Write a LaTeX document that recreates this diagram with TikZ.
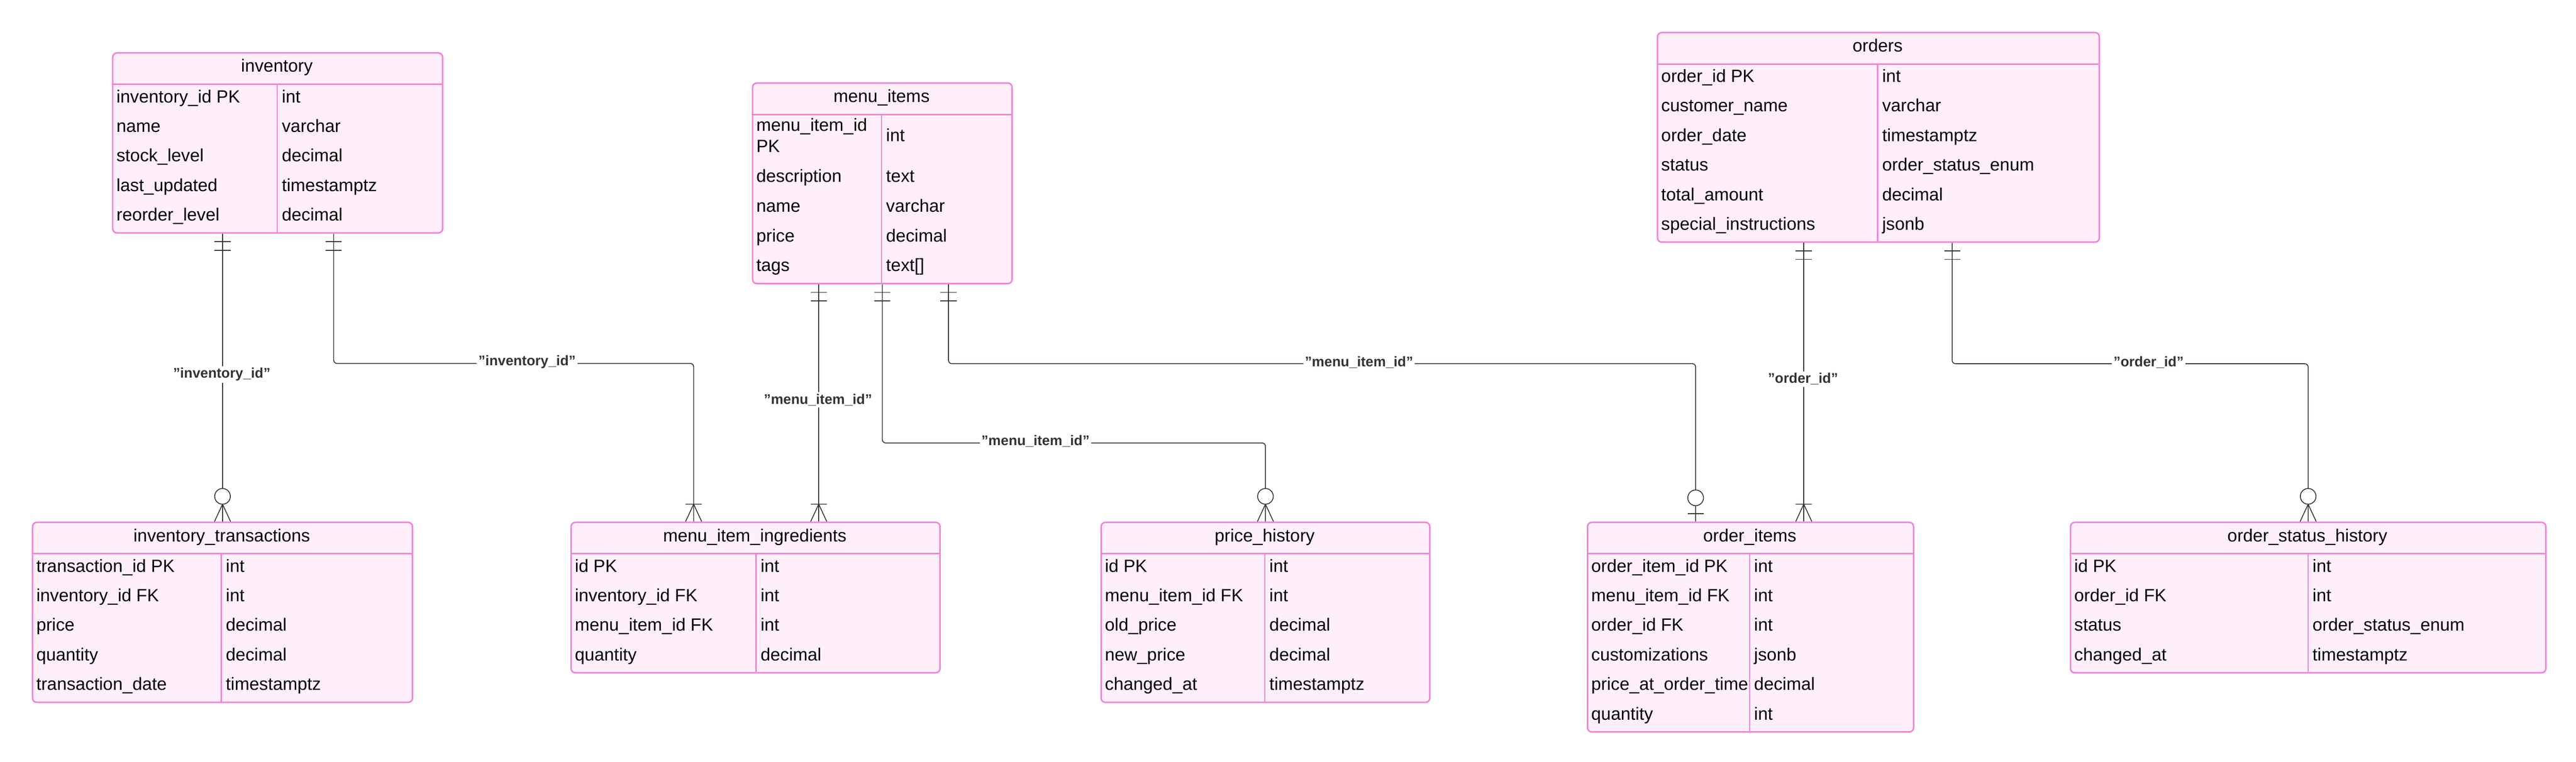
\documentclass[tikz,border=0pt]{standalone}
\usepackage{fontspec}
\setmainfont{Liberation Sans}
\definecolor{entpink}{RGB}{240,132,216}
\definecolor{entfill}{RGB}{255,239,250}
\definecolor{relgray}{RGB}{51,51,51}
\newcommand\fieldfont{\fontsize{11.84pt}{14.2pt}\selectfont}
\newcommand\relfont{\fontsize{9.4pt}{11pt}\selectfont\bfseries}
\begin{document}
\begin{tikzpicture}[ent/.style={draw=entpink,fill=entfill,line width=0.036cm,rounded corners=0.1cm,inner sep=0,anchor=north west},
	sep/.style={draw=entpink,line width=0.036cm},col/.style={draw=entpink,line width=0.028cm},
	enttitle/.style={font=\fieldfont,anchor=base,inner sep=0},fld/.style={font=\fieldfont,anchor=base west,inner sep=0},
	rel/.style={draw=relgray,line width=0.02cm,rounded corners=0.08cm},relline/.style={draw=relgray,line width=0.02cm},
	lbl/.style={font=\relfont,text=relgray,fill=white,inner sep=0.04cm},
	onlyone/.pic={\draw[relline] (-0.19,-0.19) -- (0.19,-0.19) (-0.19,-0.39) -- (0.19,-0.39);},
	zeromany/.pic={\draw[relline] (-0.19,0) -- (0,0.41) -- (0.19,0); \draw[relline,fill=white] (0,0.595) circle (0.185);},
	onemany/.pic={\draw[relline] (-0.19,0) -- (0,0.41) -- (0.19,0) (-0.19,0.41) -- (0.19,0.41);},
	zeroone/.pic={\draw[relline] (-0.19,0.19) -- (0.19,0.19); \draw[relline,fill=white] (0,0.56) circle (0.185);}]
	\useasboundingbox (0,0) rectangle (60.75,-17.96);
	% inventory
	\node[ent,minimum width=7.78cm,minimum height=4.245cm] (inv) at (2.64,-1.23) {};
	\draw[sep] (2.64,-1.99) -- (10.42,-1.99);
	\draw[col] (6.54,-1.99) -- (6.54,-5.475);
	\node[enttitle] (inv-h) at (6.53,-1.70) {inventory};
	\foreach \fn/\ty [count=\i] in {inventory\_id PK/int,name/varchar,stock\_level/decimal,last\_updated/timestamptz,reorder\_level/decimal}{
	    \node[fld] (inv-n\i) at (2.74,{-1.99-0.697*(\i-0.5)-0.08}) {\fn};
	    \node[fld] (inv-y\i) at (6.64,{-1.99-0.697*(\i-0.5)-0.08}) {\ty};}
	% menu_items
	\node[ent,minimum width=6.12cm,minimum height=4.73cm] (mi) at (17.73,-1.94) {};
	\draw[sep] (17.73,-2.70) -- (23.85,-2.70);
	\draw[col] (20.79,-2.70) -- (20.79,-6.67);
	\node[enttitle] (mi-h) at (20.79,-2.41) {menu\_items};
	\node[fld,align=left,anchor=north west] (mi-n1) at (17.83,-2.78) {menu\_item\_id\\PK};
	\node[fld] (mi-y1) at (20.89,-3.33) {int};
	\foreach \fn/\ty [count=\i from 2] in {description/text,name/varchar,price/decimal,tags/text[]}{
	    \node[fld] (mi-n\i) at (17.83,{-3.87-0.70*(\i-1.5)-0.08}) {\fn};
	    \node[fld] (mi-y\i) at (20.89,{-3.87-0.70*(\i-1.5)-0.08}) {\ty};}
	% orders
	\node[ent,minimum width=10.42cm,minimum height=4.942cm] (ord) at (39.07,-0.75) {};
	\draw[sep] (39.07,-1.51) -- (49.49,-1.51);
	\draw[col] (44.28,-1.51) -- (44.28,-5.692);
	\node[enttitle] (ord-h) at (44.28,-1.22) {orders};
	\foreach \fn/\ty [count=\i] in {order\_id PK/int,customer\_name/varchar,order\_date/timestamptz,status/order\_status\_enum,total\_amount/decimal,special\_instructions/jsonb}{
	    \node[fld] (ord-n\i) at (39.17,{-1.51-0.697*(\i-0.5)-0.08}) {\fn};
	    \node[fld] (ord-y\i) at (44.38,{-1.51-0.697*(\i-0.5)-0.08}) {\ty};}
	% inventory_transactions
	\node[ent,minimum width=8.96cm,minimum height=4.245cm] (invtx) at (0.75,-12.30) {};
	\draw[sep] (0.75,-13.06) -- (9.71,-13.06);
	\draw[col] (5.22,-13.06) -- (5.22,-16.545);
	\node[enttitle] (invtx-h) at (5.23,-12.77) {inventory\_transactions};
	\foreach \fn/\ty [count=\i] in {transaction\_id PK/int,inventory\_id FK/int,price/decimal,quantity/decimal,transaction\_date/timestamptz}{
	    \node[fld] (invtx-n\i) at (0.85,{-13.06-0.697*(\i-0.5)-0.08}) {\fn};
	    \node[fld] (invtx-y\i) at (5.32,{-13.06-0.697*(\i-0.5)-0.08}) {\ty};}
	% menu_item_ingredients
	\node[ent,minimum width=8.70cm,minimum height=3.548cm] (mii) at (13.45,-12.30) {};
	\draw[sep] (13.45,-13.06) -- (22.15,-13.06);
	\draw[col] (17.83,-13.06) -- (17.83,-15.848);
	\node[enttitle] (mii-h) at (17.80,-12.77) {menu\_item\_ingredients};
	\foreach \fn/\ty [count=\i] in {id PK/int,inventory\_id FK/int,menu\_item\_id FK/int,quantity/decimal}{
	    \node[fld] (mii-n\i) at (13.55,{-13.06-0.697*(\i-0.5)-0.08}) {\fn};
	    \node[fld] (mii-y\i) at (17.93,{-13.06-0.697*(\i-0.5)-0.08}) {\ty};}
	% price_history
	\node[ent,minimum width=7.75cm,minimum height=4.245cm] (ph) at (25.95,-12.30) {};
	\draw[sep] (25.95,-13.06) -- (33.70,-13.06);
	\draw[col] (29.83,-13.06) -- (29.83,-16.545);
	\node[enttitle] (ph-h) at (29.825,-12.77) {price\_history};
	\foreach \fn/\ty [count=\i] in {id PK/int,menu\_item\_id FK/int,old\_price/decimal,new\_price/decimal,changed\_at/timestamptz}{
	    \node[fld] (ph-n\i) at (26.05,{-13.06-0.697*(\i-0.5)-0.08}) {\fn};
	    \node[fld] (ph-y\i) at (29.93,{-13.06-0.697*(\i-0.5)-0.08}) {\ty};}
	% order_items
	\node[ent,minimum width=7.69cm,minimum height=4.942cm] (oi) at (37.42,-12.30) {};
	\draw[sep] (37.42,-13.06) -- (45.11,-13.06);
	\draw[col] (41.26,-13.06) -- (41.26,-17.242);
	\node[enttitle] (oi-h) at (41.265,-12.77) {order\_items};
	\foreach \fn/\ty [count=\i] in {order\_item\_id PK/int,menu\_item\_id FK/int,order\_id FK/int,customizations/jsonb,price\_at\_order\_time/decimal,quantity/int}{
	    \node[fld] (oi-n\i) at (37.52,{-13.06-0.697*(\i-0.5)-0.08}) {\fn};
	    \node[fld] (oi-y\i) at (41.36,{-13.06-0.697*(\i-0.5)-0.08}) {\ty};}
	% order_status_history
	\node[ent,minimum width=11.21cm,minimum height=3.548cm] (osh) at (48.81,-12.30) {};
	\draw[sep] (48.81,-13.06) -- (60.02,-13.06);
	\draw[col] (54.43,-13.06) -- (54.43,-15.848);
	\node[enttitle] (osh-h) at (54.415,-12.77) {order\_status\_history};
	\foreach \fn/\ty [count=\i] in {id PK/int,order\_id FK/int,status/order\_status\_enum,changed\_at/timestamptz}{
	    \node[fld] (osh-n\i) at (48.91,{-13.06-0.697*(\i-0.5)-0.08}) {\fn};
	    \node[fld] (osh-y\i) at (54.53,{-13.06-0.697*(\i-0.5)-0.08}) {\ty};}
	% relationship ends
	\coordinate (inv-a) at ([xshift=-1.30cm]inv.south);
	\coordinate (inv-b) at ([xshift=1.32cm]inv.south);
	\coordinate (mi-a) at ([xshift=-1.50cm]mi.south);
	\coordinate (mi-b) at (mi.south);
	\coordinate (mi-c) at ([xshift=1.56cm]mi.south);
	\coordinate (ord-a) at ([xshift=-1.76cm]ord.south);
	\coordinate (ord-b) at ([xshift=1.74cm]ord.south);
	\coordinate (invtx-a) at (invtx.north);
	\coordinate (mii-a) at ([xshift=-1.46cm]mii.north);
	\coordinate (mii-b) at (mi-a |- mii.north);
	\coordinate (ph-a) at (ph.north);
	\coordinate (oi-a) at ([xshift=-1.295cm]oi.north);
	\coordinate (oi-b) at (ord-a |- oi.north);
	\coordinate (osh-a) at (osh.north);
	% relationships
	\draw[rel] (inv-a) -- (invtx-a);
	\draw[rel] (inv-b) -- ++(0,-3.06) -| (mii-a);
	\draw[rel] (mi-a) -- (mii-b);
	\draw[rel] (mi-b) -- ++(0,-3.74) -| (ph-a);
	\draw[rel] (mi-c) -- ++(0,-1.87) -| (oi-a);
	\draw[rel] (ord-a) -- (oi-b);
	\draw[rel] (ord-b) -- ++(0,-2.85) -| (osh-a);
	\foreach \p in {inv-a,inv-b,mi-a,mi-b,mi-c,ord-a,ord-b}{\pic at (\p) {onlyone};}
	\pic at (invtx-a) {zeromany};
	\pic at (mii-a) {onemany};
	\pic at (mii-b) {onemany};
	\pic at (ph-a) {zeromany};
	\pic at (oi-a) {zeroone};
	\pic at (oi-b) {onemany};
	\pic at (osh-a) {zeromany};
	\node[lbl] (l-inv1) at (5.23,-8.83) {"inventory\_id"};
	\node[lbl] (l-inv2) at (12.43,-8.54) {"inventory\_id"};
	\node[lbl] (l-mi1) at (19.29,-9.43) {"menu\_item\_id"};
	\node[lbl] (l-mi2) at (24.42,-10.41) {"menu\_item\_id"};
	\node[lbl] (l-mi3) at (32.05,-8.54) {"menu\_item\_id"};
	\node[lbl] (l-ord1) at (42.52,-8.94) {"order\_id"};
	\node[lbl] (l-ord2) at (50.67,-8.54) {"order\_id"};
\end{tikzpicture}
\end{document}
